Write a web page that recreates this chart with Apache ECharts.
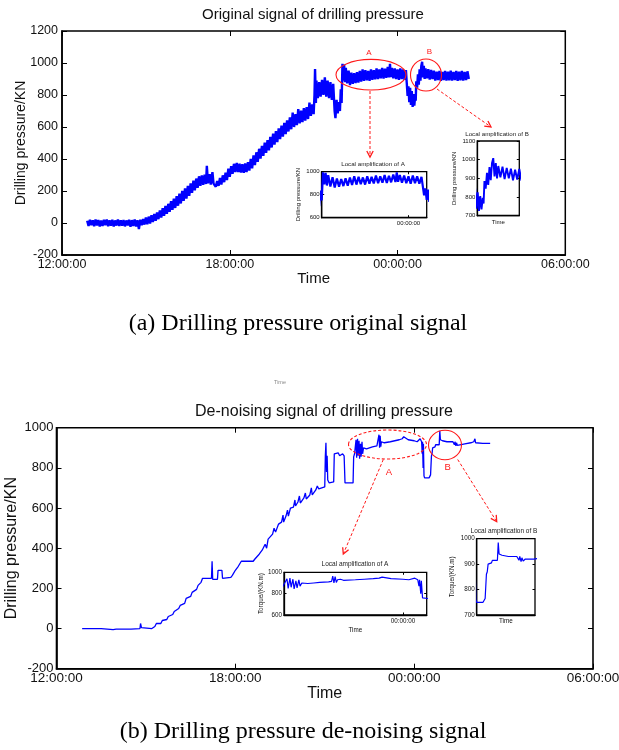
<!DOCTYPE html>
<html><head><meta charset="utf-8">
<script src="https://cdn.jsdelivr.net/npm/echarts@6/dist/echarts.min.js"></script>
<style>html,body{margin:0;padding:0;background:#fff}#c{width:619px;height:750px}</style>
</head><body><div id="c"></div>
<script>
// ---------- DATA ----------
const xTickHours = [12, 18, 24, 30];
const xTickLabels = ['12:00:00', '18:00:00', '00:00:00', '06:00:00'];

// Original (raw) drilling pressure signal: time in hours after 00:00 of day 1, value KN
const rawTime = [
12.90,12.95,13.00,13.05,13.10,13.15,13.20,13.25,13.30,13.35,13.40,13.45,13.50,13.55,13.60,13.65,13.70,13.75,13.80,13.85,
13.90,13.95,14.00,14.05,14.10,14.15,14.20,14.25,14.30,14.35,14.40,14.45,14.50,14.55,14.60,14.65,14.70,14.75,14.80,14.85,
14.90,14.95,15.00,15.05,15.10,15.15,15.20,15.25,15.30,15.35,15.40,15.45,15.50,15.55,15.60,15.65,15.70,15.75,15.80,15.85,
15.90,15.95,16.00,16.05,16.10,16.15,16.20,16.25,16.30,16.35,16.40,16.45,16.50,16.55,16.60,16.65,16.70,16.75,16.80,16.85,
16.90,16.95,17.00,17.05,17.10,17.15,17.18,17.22,17.28,17.32,17.38,17.42,17.46,17.50,17.55,17.60,17.65,17.70,17.75,17.80,
17.85,17.90,17.95,18.00,18.05,18.10,18.15,18.20,18.25,18.30,18.35,18.40,18.45,18.50,18.55,18.60,18.65,18.70,18.75,18.80,
18.85,18.90,18.95,19.00,19.05,19.10,19.15,19.20,19.25,19.30,19.35,19.40,19.45,19.50,19.55,19.60,19.65,19.70,19.75,19.80,
19.85,19.90,19.95,20.00,20.05,20.10,20.15,20.20,20.25,20.30,20.35,20.40,20.45,20.50,20.55,20.60,20.65,20.70,20.75,20.80,
20.85,20.90,20.95,21.00,21.03,21.05,21.08,21.10,21.15,21.20,21.25,21.30,21.35,21.40,21.45,21.50,21.55,21.60,21.65,21.70,
21.75,21.78,21.82,21.86,21.90,21.94,21.97,22.00,22.03,22.06,22.09,22.12,22.15,22.20,22.25,22.30,22.35,22.40,22.45,22.50,
22.55,22.60,22.65,22.70,22.75,22.80,22.85,22.90,22.95,23.00,23.05,23.10,23.15,23.20,23.25,23.30,23.35,23.40,23.45,23.50,
23.55,23.60,23.65,23.70,23.73,23.76,23.80,23.85,23.90,23.95,24.00,24.05,24.10,24.15,24.20,24.25,24.30,24.33,24.36,24.39,
24.42,24.45,24.48,24.51,24.54,24.57,24.60,24.63,24.65,24.67,24.70,24.73,24.76,24.79,24.82,24.85,24.88,24.91,24.94,24.97,
25.00,25.05,25.10,25.15,25.20,25.25,25.30,25.35,25.40,25.45,25.50,25.55,25.60,25.65,25.70,25.75,25.80,25.85,25.90,25.95,
26.00,26.05,26.10,26.15,26.20,26.25,26.30,26.35,26.40,26.45,26.50,26.55
];
const rawValue = [
14,-18,20,-14,17,-20,22,-16,18,-22,16,-18,20,-14,22,-20,17,-17,20,-22,
16,-16,22,-19,17,-17,19,-21,16,-15,20,-24,18,-18,22,-22,17,-38,20,-14,
25,-10,34,-8,40,-3,48,6,56,14,66,24,78,34,92,45,106,57,120,70,
136,82,152,94,168,108,184,122,200,138,216,152,232,170,248,188,264,204,278,220,
292,232,298,238,302,244,358,248,305,240,318,246,238,226,262,232,282,240,298,255,
315,268,340,288,355,308,370,318,375,318,370,315,368,314,372,318,380,328,400,342,
422,362,442,382,464,402,482,420,502,438,518,454,538,472,558,490,574,506,592,524,
608,540,626,556,642,572,660,586,690,600,680,612,712,622,702,630,718,640,724,650,
752,670,742,680,800,962,750,890,780,880,790,895,800,910,790,890,780,880,770,870,
700,655,770,685,755,700,835,750,995,890,990,880,970,872,952,862,940,870,936,875,
942,878,950,884,960,888,955,892,950,888,960,895,955,898,966,900,960,904,970,902,
965,908,975,910,995,912,970,904,966,900,960,895,966,900,960,895,955,875,795,855,
755,845,738,825,726,805,734,795,765,885,845,930,865,960,890,982,1008,910,982,900,
966,905,962,896,956,900,952,890,946,894,950,888,944,894,950,890,946,892,952,890,
944,894,950,888,946,892,950,890,944,894,948,900
];

// De-noised drilling pressure signal
const denTime = [
12.86,13.50,13.52,13.90,13.92,14.00,14.50,14.52,14.80,14.82,14.85,15.20,15.25,15.30,15.35,15.50,15.55,15.70,15.75,15.90,
15.95,16.10,16.15,16.30,16.35,16.50,16.55,16.70,16.75,16.85,16.90,17.20,17.22,17.24,17.40,17.42,17.55,17.57,17.85,17.90,
18.00,18.10,18.20,18.60,18.65,18.80,18.90,19.00,19.05,19.10,19.25,19.30,19.35,19.45,19.55,19.60,19.62,19.70,19.75,19.78,
19.85,19.95,20.00,20.02,20.10,20.15,20.18,20.30,20.35,20.38,20.50,20.55,20.58,20.70,20.75,20.80,20.90,21.00,21.02,21.04,
21.06,21.08,21.10,21.15,21.30,21.32,21.45,21.50,21.60,21.65,21.68,21.95,21.97,22.00,22.05,22.07,22.10,22.12,22.15,22.17,
22.20,22.22,22.25,22.27,22.30,22.40,22.50,22.60,22.75,22.80,22.82,22.84,22.86,22.88,22.90,22.95,23.00,23.20,23.35,23.50,
23.60,23.65,23.70,23.80,24.00,24.10,24.20,24.25,24.27,24.28,24.30,24.31,24.33,24.35,24.50,24.55,24.57,24.58,24.60,24.62,
24.70,24.72,24.84,24.86,24.88,24.95,25.10,25.30,25.35,25.37,25.40,25.42,25.45,25.50,25.70,25.90,26.00,26.04,26.06,26.30,
26.55
];
const denValue = [
0,0,-5,-5,-8,-3,-3,0,0,25,5,0,-5,10,25,25,40,45,60,70,
85,100,115,125,150,160,180,195,215,230,250,250,335,245,245,290,290,250,255,265,
290,310,335,335,345,370,390,420,400,445,470,500,480,520,530,565,530,560,590,560,
600,605,640,610,630,660,625,650,675,645,665,700,665,690,710,695,700,705,860,925,
780,860,740,725,730,870,875,860,870,860,725,725,855,870,940,850,945,860,935,845,
920,855,930,870,900,895,900,905,910,915,965,900,960,905,930,935,925,930,935,940,
945,955,950,940,935,930,945,930,870,930,800,920,760,750,750,765,765,860,870,900,
905,915,915,985,940,935,930,930,915,930,910,925,912,920,920,925,930,945,925,922,
922
];

// ---------- CHART ----------
const FONT = '"Liberation Sans", Arial, sans-serif';
const SERIF = '"Liberation Serif", "Times New Roman", serif';
const BLUE = '#0000ff';
const RED = '#ff1a1a';

const rawData = rawTime.map((t, i) => [t, rawValue[i]]);
const denData = denTime.map((t, i) => [t, denValue[i]]);
const fmtHour = v => { const k = xTickHours.indexOf(v); return k >= 0 ? xTickLabels[k] : ''; };
const fmtPlain = v => String(v);

const panels = [
  { grid: {left: 62, top: 31, width: 503.3, height: 224}, border: 1.5, tick: 5, lw: 2.4, data: rawData,
    x: {min: 12, max: 30, interval: 6, label: true, fs: 12.5, margin: 3, name: 'Time', nameFs: 15, nameGap: 16, ticks: true},
    y: {min: -200, max: 1200, interval: 200, fs: 12.5, margin: 4, name: 'Drilling pressure/KN', nameFs: 14, nameGap: 34} },
  { grid: {left: 321.7, top: 171.7, width: 105, height: 46}, border: 1.3, tick: 2.5, lw: 2.2, data: rawData,
    x: {min: 22, max: 24.42, interval: 2, label: true, fs: 6, margin: 3, name: '', ticks: true},
    y: {min: 600, max: 1000, interval: 200, fs: 6, margin: 2, name: 'Drilling pressure/KN', nameFs: 6, nameGap: 20.5} },
  { grid: {left: 477.3, top: 141, width: 42, height: 74.7}, border: 1.3, tick: 2.5, lw: 1.9, data: rawData,
    x: {min: 24.5, max: 25.5, label: false, name: 'Time', nameFs: 6, nameGap: 4, ticks: false},
    y: {min: 700, max: 1100, interval: 100, fs: 6, margin: 2, name: 'Drilling pressure/KN', nameFs: 6, nameGap: 20} },
  { grid: {left: 56.5, top: 427.7, width: 536.5, height: 241}, border: 1.6, tick: 5, lw: 1.3, data: denData,
    x: {min: 12, max: 30, interval: 6, label: true, fs: 13.5, margin: 3, name: 'Time', nameFs: 16, nameGap: 17, ticks: true},
    y: {min: -200, max: 1000, interval: 200, fs: 13, margin: 3, name: 'Drilling pressure/KN', nameFs: 16, nameGap: 36.5} },
  { grid: {left: 284, top: 572.3, width: 142.7, height: 42.7}, border: 1.3, tick: 2.5, lw: 1.2, data: denData,
    x: {min: 22, max: 24.4, interval: 2, label: true, fs: 6.3, margin: 3.5, name: 'Time', nameFs: 6.3, nameGap: 12, ticks: true},
    y: {min: 600, max: 1000, interval: 200, fs: 6.3, margin: 2, name: 'Torque/(KN.m)', nameFs: 6.3, nameGap: 20} },
  { grid: {left: 476.7, top: 538.7, width: 58.3, height: 76.3}, border: 1.3, tick: 2.5, lw: 1.2, data: denData,
    x: {min: 24.35, max: 25.73, label: false, name: 'Time', nameFs: 6.3, nameGap: 3.7, ticks: false},
    y: {min: 700, max: 1000, interval: 100, fs: 6.3, margin: 2, name: 'Torque/(KN.m)', nameFs: 6.3, nameGap: 21} }
];

const grid = [], xAxis = [], yAxis = [], series = [];
panels.forEach((p, i) => {
  grid.push(Object.assign({show: true, borderColor: '#000', borderWidth: p.border, backgroundColor: '#fff', containLabel: false, outerBoundsMode: 'none'}, p.grid));
  const xBase = {gridIndex: i, type: 'value', min: p.x.min, max: p.x.max, splitLine: {show: false}};
  if (p.x.interval) xBase.interval = p.x.interval;
  const yBase = {gridIndex: i, type: 'value', min: p.y.min, max: p.y.max, interval: p.y.interval, splitLine: {show: false}};
  const tickStyle = {show: true, inside: true, length: p.tick, lineStyle: {color: '#000', width: 1}};
  xAxis.push(Object.assign({}, xBase, {
    position: 'bottom',
    axisLine: {show: true, onZero: false, lineStyle: {color: '#000', width: p.border}},
    axisTick: Object.assign({}, tickStyle, {show: p.x.ticks}),
    axisLabel: {show: p.x.label, formatter: fmtHour, fontSize: p.x.fs, color: '#111', fontFamily: FONT, margin: p.x.margin || 3, showMinLabel: true, showMaxLabel: true},
    name: p.x.name, nameLocation: 'middle', nameGap: p.x.nameGap || 0, nameMoveOverlap: false,
    nameTextStyle: {fontSize: p.x.nameFs || 6, color: '#111', fontFamily: FONT}
  }));
  xAxis.push(Object.assign({}, xBase, {
    position: 'top',
    axisLine: {show: false, onZero: false},
    axisTick: Object.assign({}, tickStyle, {show: p.x.ticks}),
    axisLabel: {show: false}
  }));
  yAxis.push(Object.assign({}, yBase, {
    position: 'left',
    axisLine: {show: true, onZero: false, lineStyle: {color: '#000', width: p.border}},
    axisTick: tickStyle,
    axisLabel: {show: true, formatter: fmtPlain, fontSize: p.y.fs, color: '#111', fontFamily: FONT, margin: p.y.margin},
    name: p.y.name, nameLocation: 'middle', nameRotate: 90, nameGap: p.y.nameGap, nameMoveOverlap: false,
    nameTextStyle: {fontSize: p.y.nameFs, color: '#111', fontFamily: FONT}
  }));
  yAxis.push(Object.assign({}, yBase, {
    position: 'right',
    axisLine: {show: false, onZero: false},
    axisTick: tickStyle,
    axisLabel: {show: false}
  }));
  series.push({
    type: 'line', xAxisIndex: 2 * i, yAxisIndex: 2 * i, data: p.data,
    showSymbol: false, symbol: 'none', clip: true, silent: true,
    lineStyle: {color: BLUE, width: p.lw, join: 'bevel'}
  });
});

function txt(text, x, y, size, opts) {
  opts = opts || {};
  return {type: 'text', z: 100, rotation: opts.rotation || 0, x: x, y: y,
    style: {text: text, x: 0, y: 0, fill: opts.color || '#111', font: size + 'px ' + (opts.family || FONT),
      align: opts.align || 'center', verticalAlign: 'middle', textAlign: opts.align || 'center', textVerticalAlign: 'middle'}};
}
function ellipse(cx, cy, rx, ry, dashed) {
  return {type: 'ellipse', z: 100, shape: {cx: cx, cy: cy, rx: rx, ry: ry},
    style: {fill: null, stroke: RED, lineWidth: 1.1, lineDash: dashed ? [3, 2] : null}};
}
function arrow(x1, y1, x2, y2) {
  const dx = x2 - x1, dy = y2 - y1, L = Math.hypot(dx, dy), ux = dx / L, uy = dy / L;
  const bx = x2 - ux * 6, by = y2 - uy * 6, px = -uy * 3.2, py = ux * 3.2;
  return [
    {type: 'line', z: 100, shape: {x1: x1, y1: y1, x2: x2, y2: y2}, style: {stroke: RED, lineWidth: 1, lineDash: [3, 2]}},
    {type: 'polyline', z: 100, shape: {points: [[bx + px, by + py], [x2, y2], [bx - px, by - py]]}, style: {stroke: RED, lineWidth: 1.3, fill: null}}
  ];
}

const graphic = [
  txt('Original signal of drilling pressure', 313, 15, 15),
  txt('De-noising signal of drilling pressure', 324, 412, 16),
  txt('(a) Drilling pressure original signal', 298, 324, 24, {family: SERIF, color: '#000'}),
  txt('(b) Drilling pressure de-noising signal', 303, 732, 24, {family: SERIF, color: '#000'}),
  txt('Time', 280, 382, 5.5, {color: '#888'}),
  txt('Local amplification of A', 373, 164.3, 6.2, {color: '#222'}),
  txt('Local amplification of B', 497, 134.7, 6.2, {color: '#222'}),
  txt('Local amplification of A', 355, 564.3, 6.5, {color: '#222'}),
  txt('Local amplification of B', 504, 531.7, 6.5, {color: '#222'}),
  ellipse(371, 74.7, 35, 15.3, false),
  ellipse(426, 75, 15.5, 16, false),
  txt('A', 369, 52.3, 8, {color: RED}),
  txt('B', 429.3, 52, 8, {color: RED}),
  ellipse(387.5, 444.5, 39, 14.5, true),
  ellipse(445, 445, 16.5, 14.7, false),
  txt('A', 389, 472.3, 9.5, {color: RED}),
  txt('B', 447.7, 467.7, 9.5, {color: RED})
].concat(arrow(370, 91, 370, 157), arrow(437, 89, 491, 127), arrow(383.3, 459.5, 343.3, 554), arrow(457.7, 459.5, 496.7, 521.7));

const chart = echarts.init(document.getElementById('c'), null, {renderer: 'canvas', width: 619, height: 750});
chart.setOption({animation: false, backgroundColor: '#fff', grid, xAxis, yAxis, series, graphic});
</script></body></html>
